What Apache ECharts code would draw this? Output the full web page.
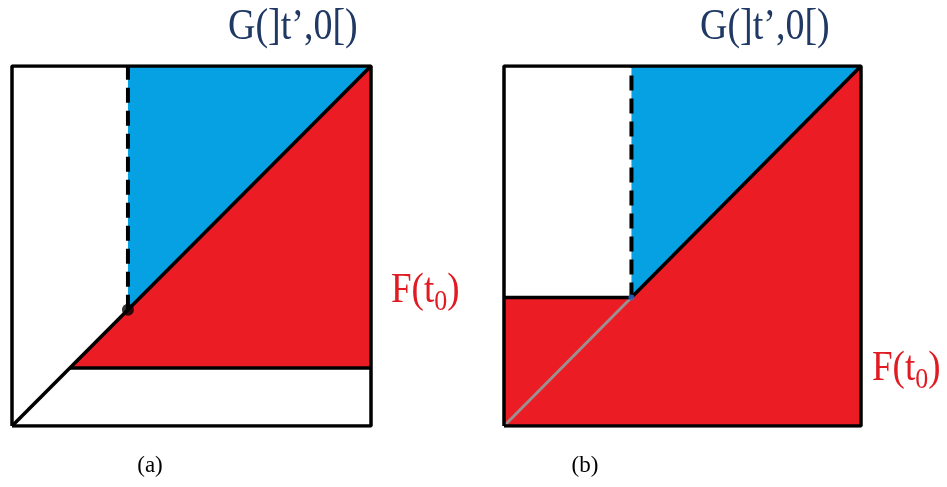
<!DOCTYPE html>
<html><head><meta charset="utf-8">
<script src="https://cdn.jsdelivr.net/npm/echarts@6/dist/echarts.min.js"></script>
<style>html,body{margin:0;padding:0;background:#fff}#c{width:947px;height:487px}</style>
</head><body><div id="c"></div>
<script>
// Panel (a): t' position on the diagonal and lower bound of F(t0)
const aTPrime = [0.323];
const aFloor = [0.161];
// Panel (b): t' position
const bTPrime = [0.357];
const titleText = ["G(]t\u2019,0[)", "G(]t\u2019,0[)"];
const fText = ["F(t", "0", ")"];
const panelLabels = ["(a)", "(b)"];

const RED = '#ec1c24', BLUE = '#05a1e3';

const aBlue = [[aTPrime[0], 1], [aTPrime[0], aTPrime[0]], [1, 1]];
const aRed = [[aFloor[0], aFloor[0]], [1, aFloor[0]], [1, 1]];
const bBlue = [[bTPrime[0], 1], [bTPrime[0], bTPrime[0]], [1, 1]];
const bRed = [[0, 0], [0, bTPrime[0]], [bTPrime[0], bTPrime[0]], [1, 1], [1, 0]];
const box = [[0, 0], [0, 1], [1, 1], [1, 0], [0, 0]];

function poly(idx, pts, color) {
  return {
    type: 'custom', xAxisIndex: idx, yAxisIndex: idx, data: [0], silent: true, z: 1,
    renderItem: (params, api) => ({
      type: 'polygon',
      shape: { points: pts.map(p => api.coord(p)) },
      style: { fill: color, stroke: 'none' }
    })
  };
}
function line(idx, pts, color, width, type, z) {
  return {
    type: 'line', xAxisIndex: idx, yAxisIndex: idx, data: pts, symbol: 'none', silent: true,
    z: z || 3, lineStyle: { color: color, width: width, type: type || 'solid' }, animation: false
  };
}
const axisOpt = (i) => ({ type: 'value', min: 0, max: 1, show: false, gridIndex: i });
const FRED = '#e01b22';
const fRich = {
  a: { fontFamily: 'Liberation Serif', fontSize: 37, fill: FRED, color: FRED },
  b: { fontFamily: 'Liberation Serif', fontSize: 26, fill: FRED, color: FRED, padding: [18, 0, 0, 0] }
};

const chart = echarts.init(document.getElementById('c'), null, { renderer: 'canvas' });
chart.setOption({
  animation: false,
  backgroundColor: '#fff',
  grid: [
    { left: 12, top: 66, width: 359, height: 360, show: false },
    { left: 504, top: 66, width: 357, height: 360, show: false }
  ],
  xAxis: [axisOpt(0), axisOpt(1)],
  yAxis: [axisOpt(0), axisOpt(1)],
  series: [
    poly(0, aBlue, BLUE),
    poly(0, aRed, RED),
    poly(1, bBlue, BLUE),
    poly(1, bRed, RED),
    // panel a lines
    line(0, [[0, 0], [1, 1]], '#000', 3.5),
    line(0, [[aFloor[0], aFloor[0]], [1, aFloor[0]]], '#000', 3.5),
    line(0, [[aTPrime[0], aTPrime[0]], [aTPrime[0], 1]], '#000', 4, [15, 8]),
    line(0, box, '#000', 3.5, 'solid', 5),
    {
      type: 'scatter', xAxisIndex: 0, yAxisIndex: 0, data: [[aTPrime[0], aTPrime[0]]],
      symbolSize: 12, itemStyle: { color: '#000' }, z: 6, silent: true
    },
    // panel b lines
    line(1, [[0, 0], [bTPrime[0], bTPrime[0]]], '#9a9090', 3),
    line(1, [[bTPrime[0], bTPrime[0]], [1, 1]], '#000', 3.5),
    line(1, [[0, bTPrime[0]], [bTPrime[0], bTPrime[0]]], '#000', 3.5),
    line(1, [[bTPrime[0], bTPrime[0]], [bTPrime[0], 1]], '#000', 4, [15, 8]),
    line(1, box, '#000', 3.5, 'solid', 5),
    {
      type: 'scatter', xAxisIndex: 1, yAxisIndex: 1, data: [[bTPrime[0], bTPrime[0]]],
      symbolSize: 6, itemStyle: { color: '#2a6fd0' }, z: 6, silent: true
    }
  ],
  graphic: [
    { type: 'text', x: 228, y: 6, scaleY: 1.15, style: { text: titleText[0], font: '38px "Liberation Serif"', fill: '#203864' } },
    { type: 'text', x: 700, y: 6, scaleY: 1.15, style: { text: titleText[1], font: '38px "Liberation Serif"', fill: '#203864' } },
    { type: 'text', x: 391, y: 266, scaleY: 1.15, style: {
        text: '{a|' + fText[0] + '}{b|' + fText[1] + '}{a|' + fText[2] + '}', rich: fRich, fill: FRED } },
    { type: 'text', x: 872, y: 344, scaleY: 1.15, style: {
        text: '{a|' + fText[0] + '}{b|' + fText[1] + '}{a|' + fText[2] + '}', rich: fRich, fill: FRED } },
    { type: 'text', x: 150, y: 466, style: { text: panelLabels[0], font: '23px "Liberation Serif"', fill: '#000', align: 'center', verticalAlign: 'middle' } },
    { type: 'text', x: 585, y: 466, style: { text: panelLabels[1], font: '23px "Liberation Serif"', fill: '#000', align: 'center', verticalAlign: 'middle' } }
  ]
});
</script></body></html>
